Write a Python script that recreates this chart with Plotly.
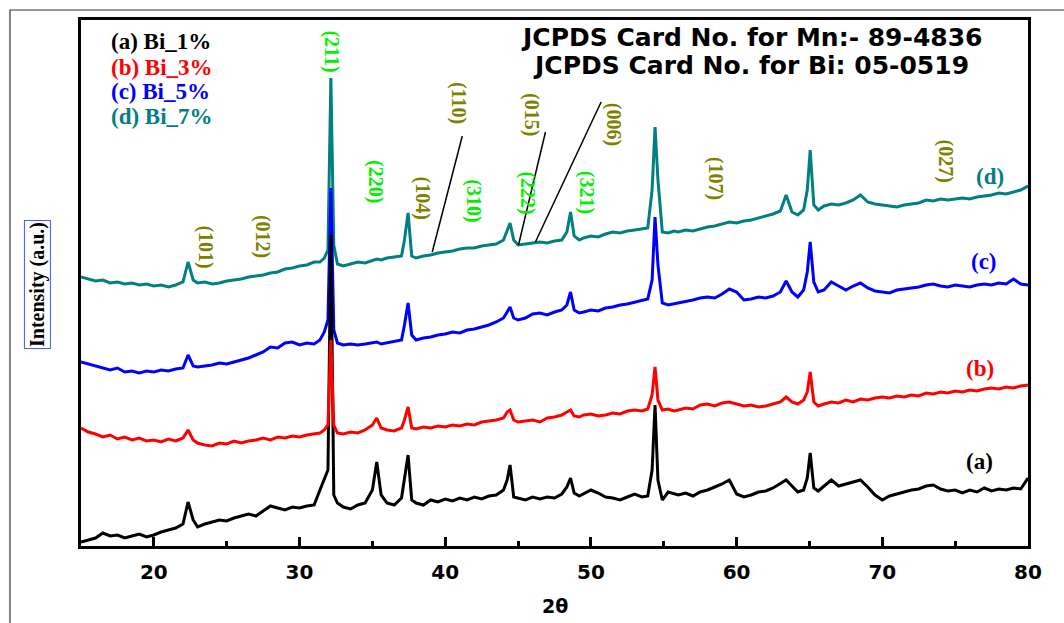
import plotly.graph_objects as go

# 2-theta positions (degrees), shared by all four patterns
two_theta = (
    [15.0, 15.5, 16.0, 16.5, 17.0, 17.5, 18.0, 18.5, 19.0, 19.5, 20.0, 20.5, 21.0, 21.5, 22.0]
    + [22.35, 22.7]
    + [23.0, 23.5, 24.0, 24.5, 25.0, 25.5, 26.0, 26.5, 27.0, 27.5, 28.0, 28.5, 29.0, 29.5, 30.0, 30.5, 31.0]
    + [31.4, 31.7, 31.95, 32.15, 32.35, 32.6]
    + [33.0, 33.5, 34.0, 34.5, 35.0]
    + [35.3, 35.6]
    + [36.0, 36.5, 37.0]
    + [37.2, 37.45, 37.7]
    + [38.0, 38.5, 39.0, 39.5, 40.0, 40.5, 41.0, 41.5, 42.0, 42.5, 43.0, 43.5, 44.0]
    + [44.25, 44.45, 44.7]
    + [45.0, 45.5, 46.0, 46.5, 47.0, 47.5, 48.0]
    + [48.35, 48.6, 48.85, 49.2]
    + [49.5, 50.0, 50.5, 51.0, 51.5, 52.0, 52.5, 53.0, 53.5]
    + [53.9, 54.2, 54.4, 54.6, 54.9, 55.3, 55.7]
    + [56.0, 56.5, 57.0, 57.5, 58.0, 58.5, 59.0, 59.5, 60.0, 60.5, 61.0, 61.5, 62.0, 62.5, 63.0]
    + [63.4, 63.8, 64.2, 64.6, 64.85, 65.05, 65.3, 65.6]
    + [66.0, 66.5, 67.0, 67.5, 68.0, 68.5, 69.0, 69.5, 70.0, 70.5, 71.0, 71.5, 72.0, 72.5, 73.0,
       73.5, 74.0, 74.5, 75.0, 75.5, 76.0, 76.5, 77.0, 77.5, 78.0, 78.5, 79.0, 79.5, 80.0]
)

# (a) Bi_1%  (stacked intensity, a.u.)
bi_1 = (
    [4, 6, 8, 13, 10, 11, 8, 10, 12, 9, 11, 14, 16, 18, 22]
    + [44, 26]
    + [19, 22, 24, 26, 25, 28, 30, 32, 30, 35, 40, 38, 36, 39, 38, 40, 41]
    + [56, 66, 76, 311, 51, 43]
    + [39, 37, 41, 43, 56]
    + [84, 51]
    + [43, 41, 48]
    + [66, 91, 46]
    + [43, 41, 46, 44, 47, 45, 48, 46, 49, 47, 50, 51, 56]
    + [66, 81, 49]
    + [48, 46, 49, 47, 49, 48, 52]
    + [59, 68, 53, 50]
    + [52, 56, 53, 49, 48, 46, 49, 52, 49]
    + [50, 76, 141, 66, 46, 54, 52]
    + [51, 53, 50, 54, 56, 59, 62, 66, 52, 49, 51, 54, 55, 58, 62]
    + [66, 60, 54, 56, 68, 93, 58, 55]
    + [60, 66, 60, 62, 64, 66, 59, 51, 46, 50, 52, 54, 56, 57, 60,
       61, 57, 55, 56, 53, 56, 54, 58, 55, 57, 56, 58, 57, 68]
)

# (b) Bi_3%
bi_3 = (
    [118, 114, 112, 109, 111, 107, 109, 106, 108, 105, 106, 104, 107, 105, 108]
    + [116, 106]
    + [103, 101, 100, 103, 102, 105, 103, 105, 106, 108, 106, 109, 108, 110, 109, 111, 112]
    + [113, 116, 121, 206, 121, 113]
    + [112, 114, 113, 116, 121]
    + [128, 118]
    + [116, 115, 118]
    + [126, 139, 118]
    + [117, 119, 118, 120, 119, 121, 120, 122, 121, 124, 125, 126, 128]
    + [134, 136, 126]
    + [124, 125, 126, 124, 128, 129, 131]
    + [134, 136, 130, 129]
    + [131, 132, 130, 131, 133, 132, 135, 136, 135]
    + [137, 151, 179, 146, 136, 137, 135]
    + [136, 138, 137, 141, 142, 140, 143, 144, 142, 140, 141, 139, 140, 142, 144]
    + [149, 144, 142, 146, 154, 174, 144, 140]
    + [142, 144, 143, 146, 144, 147, 146, 148, 149, 148, 150, 149, 151, 150, 153,
       152, 154, 153, 155, 154, 156, 155, 157, 158, 157, 159, 158, 160, 161]
)

# (c) Bi_5%
bi_5 = (
    [184, 182, 180, 178, 176, 178, 174, 175, 173, 175, 174, 176, 175, 177, 178]
    + [191, 180]
    + [179, 180, 181, 183, 182, 184, 186, 188, 191, 194, 199, 198, 203, 204, 201, 203, 202]
    + [206, 214, 226, 358, 216, 203]
    + [201, 202, 201, 202, 203]
    + [204, 202]
    + [203, 205, 206]
    + [221, 243, 211]
    + [206, 208, 209, 211, 212, 214, 213, 216, 217, 219, 221, 224, 228]
    + [234, 239, 228]
    + [226, 228, 232, 233, 231, 234, 236]
    + [241, 254, 236, 233]
    + [234, 236, 235, 238, 239, 241, 242, 244, 246]
    + [247, 266, 329, 281, 243, 241, 242]
    + [243, 244, 246, 248, 249, 248, 252, 257, 254, 246, 247, 249, 248, 250, 254]
    + [265, 254, 249, 256, 274, 304, 264, 254]
    + [256, 264, 260, 256, 260, 263, 258, 255, 254, 253, 256, 257, 258, 259, 261,
       262, 260, 259, 261, 260, 259, 261, 262, 261, 263, 262, 267, 262, 261]
)

# (d) Bi_7%
bi_7 = (
    [269, 267, 265, 266, 263, 264, 262, 263, 261, 262, 260, 261, 259, 261, 264]
    + [284, 266]
    + [263, 264, 262, 263, 265, 266, 267, 269, 270, 271, 273, 274, 277, 278, 280, 281, 284]
    + [284, 288, 296, 468, 301, 282]
    + [280, 282, 284, 283, 286]
    + [287, 286]
    + [288, 289, 290]
    + [306, 333, 290]
    + [288, 290, 291, 293, 294, 295, 297, 298, 298, 300, 301, 302, 306]
    + [316, 323, 306]
    + [301, 302, 303, 304, 303, 305, 306]
    + [314, 334, 310, 306]
    + [308, 310, 309, 312, 314, 313, 315, 316, 317]
    + [318, 356, 419, 366, 314, 313, 315]
    + [314, 316, 315, 317, 319, 320, 322, 324, 323, 325, 326, 328, 330, 332, 335]
    + [351, 334, 331, 336, 356, 396, 341, 336]
    + [340, 342, 341, 343, 346, 351, 344, 342, 341, 340, 339, 341, 342, 343, 346,
       345, 347, 346, 347, 348, 347, 349, 350, 351, 353, 352, 354, 356, 360]
)

for s in (bi_1, bi_3, bi_5, bi_7):
    assert len(s) == len(two_theta), (len(s), len(two_theta))

legend_labels = ["(a) Bi_1%", "(b) Bi_3%", "(c) Bi_5%", "(d) Bi_7%"]
curve_tags = ["(a)", "(b)", "(c)", "(d)"]

# peak labels: text, 2theta, label height, phase
peak_text = ["(101)", "(012)", "(211)", "(220)", "(104)", "(310)", "(110)", "(222)",
             "(015)", "(321)", "(006)", "(107)", "(027)"]
peak_x = [23.55, 27.5, 32.2, 35.25, 38.5, 41.95, 40.95, 45.65, 45.95, 49.75, 51.6, 58.6, 74.4]
peak_y = [299, 310, 495, 365, 348, 345, 443, 353, 431, 354, 422, 368, 385]
peak_phase = ["Bi", "Bi", "Mn", "Mn", "Bi", "Mn", "Bi", "Mn", "Bi", "Mn", "Bi", "Bi", "Bi"]

OLIVE = "#808000"
GREEN = "#00F000"
TEAL = "#008080"

fig = go.Figure()
draw = [(bi_7, TEAL, legend_labels[3]), (bi_5, "#0000FF", legend_labels[2]),
        (bi_1, "#000000", legend_labels[0]), (bi_3, "#FF0000", legend_labels[1])]
for ys, col, name in draw:
    fig.add_trace(go.Scatter(x=two_theta, y=ys, mode="lines", name=name,
                             line=dict(color=col, width=3), showlegend=False))

ann = []
serif = "Liberation Serif, Times New Roman, serif"
sans = "DejaVu Sans, Arial, sans-serif"

# legend-like labels top-left
leg_cols = ["#000000", "#FF0000", "#0000FF", TEAL]
leg_y = [505, 479, 455, 430]
for t, c, yy in zip(legend_labels, leg_cols, leg_y):
    ann.append(dict(x=16.9, y=yy, xref="x", yref="y", text=t, showarrow=False,
                    xanchor="left", yanchor="middle",
                    font=dict(family=serif, size=23, color=c, weight="bold")))

# JCPDS text
for t, yy in [("JCPDS Card No. for Mn:- 89-4836", 509), ("JCPDS Card No. for Bi: 05-0519", 481)]:
    ann.append(dict(x=61.0, y=yy, xref="x", yref="y", text=t, showarrow=False,
                    xanchor="center", yanchor="middle",
                    font=dict(family=sans, size=25, color="#000000", weight="bold")))

# curve tags on the right
tag_x = [76.7, 76.7, 77.0, 77.4]
tag_y = [85, 178, 285, 370]
for t, c, xx, yy in zip(curve_tags, leg_cols, tag_x, tag_y):
    ann.append(dict(x=xx, y=yy, xref="x", yref="y", text=t, showarrow=False,
                    xanchor="center", yanchor="middle",
                    font=dict(family=serif, size=23, color=c, weight="bold")))

# peak indices
for t, xx, yy, ph in zip(peak_text, peak_x, peak_y, peak_phase):
    ann.append(dict(x=xx, y=yy, xref="x", yref="y", text=t, showarrow=False,
                    textangle=90, xanchor="center", yanchor="middle",
                    font=dict(family=serif, size=20, color=OLIVE if ph == "Bi" else GREEN,
                              weight="bold")))

# y axis title in a box
ann.append(dict(x=-0.0465, y=0.498, xref="paper", yref="paper", text="Intensity (a.u.)",
                showarrow=False, textangle=-90, xanchor="center", yanchor="middle",
                font=dict(family=serif, size=20, color="#000000", weight="bold"),
                bordercolor="#3a5cff", borderwidth=1, borderpad=1, bgcolor="white"))

# x axis title
ann.append(dict(x=0.5005, y=-0.114, xref="paper", yref="paper", text="2θ", showarrow=False,
                xanchor="center", yanchor="middle",
                font=dict(family=sans, size=19, color="#000000", weight="bold")))

shapes = []
# leader lines from labels to peaks
for (x0, y0, x1, y1) in [(41.17, 410, 39.11, 294), (46.88, 414, 45.03, 301), (50.70, 444, 46.19, 304)]:
    shapes.append(dict(type="line", xref="x", yref="y", x0=x0, y0=y0, x1=x1, y1=y1,
                       line=dict(color="#000000", width=1.5)))
# outer thin frame of the image
shapes.append(dict(type="rect", xref="paper", yref="paper", x0=-0.075, y0=-0.3, x1=1.2, y1=1.019,
                   line=dict(color="#333333", width=1.2), layer="below"))

fig.update_layout(
    width=1064, height=623,
    margin=dict(l=81, r=36, t=20, b=77),
    paper_bgcolor="white", plot_bgcolor="white",
    annotations=ann, shapes=shapes, showlegend=False,
    xaxis=dict(range=[15, 80], tickvals=[20, 30, 40, 50, 60, 70, 80],
               ticktext=["20", "30", "40", "50", "60", "70", "80"],
               ticks="inside", ticklen=9, tickwidth=2.5, tickcolor="#000000",
               minor=dict(ticks="inside", ticklen=5, tickwidth=2.5, tickcolor="#000000",
                          tickvals=[25, 35, 45, 55, 65, 75]),
               showline=True, linewidth=3, linecolor="#000000", mirror=True,
               showgrid=False, zeroline=False, ticklabelstandoff=6,
               tickfont=dict(family=sans, size=20, color="#000000", weight="bold")),
    yaxis=dict(range=[0, 526], showticklabels=False, ticks="", showgrid=False,
               zeroline=False, showline=True, linewidth=3, linecolor="#000000", mirror=True),
)

fig.write_html("out.html")
